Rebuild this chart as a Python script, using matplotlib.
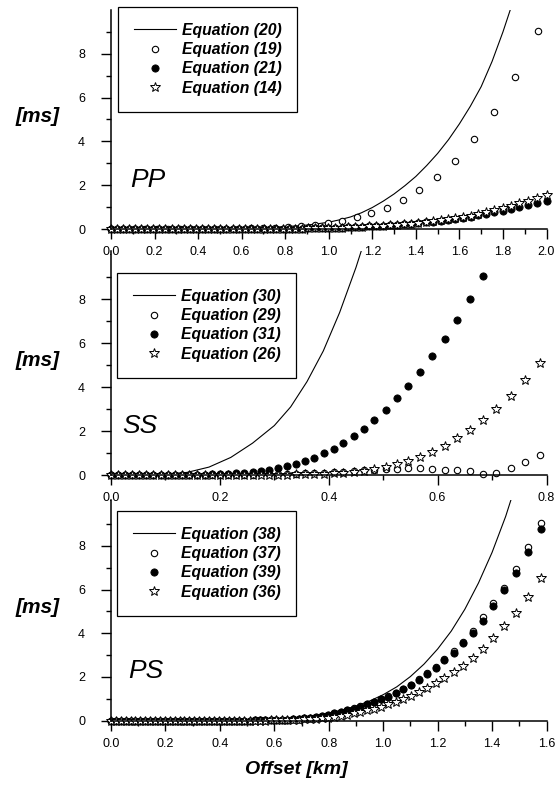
import matplotlib
matplotlib.use('Agg')
import matplotlib.pyplot as plt
from matplotlib.ticker import FixedLocator, MultipleLocator, FormatStrFormatter
from matplotlib.font_manager import FontProperties

plt.rcParams['font.family'] = ['Liberation Sans', 'DejaVu Sans']

# ---------------- PP panel ----------------
pp_line_x = [0.0, 0.2, 0.4, 0.5, 0.6, 0.65, 0.70, 0.75, 0.80, 0.85, 0.90, 0.95, 1.00, 1.05, 1.10,
             1.15, 1.20, 1.25, 1.30, 1.35, 1.40, 1.45, 1.50, 1.55, 1.60, 1.65, 1.70, 1.75, 1.80, 1.85]
pp_line_y = [0.0, 0.0, 0.005, 0.01, 0.03, 0.045, 0.06, 0.085, 0.11, 0.14, 0.18, 0.24, 0.31, 0.42, 0.55,
             0.74, 0.98, 1.27, 1.60, 1.98, 2.40, 2.90, 3.45, 4.08, 4.80, 5.60, 6.50, 7.65, 9.00, 10.5]

pp_open_x = [0.000, 0.053, 0.106, 0.158, 0.211, 0.263, 0.316, 0.369, 0.422, 0.476, 0.530, 0.585, 0.641,
             0.697, 0.754, 0.812, 0.874, 0.935, 0.998, 1.062, 1.128, 1.196, 1.266, 1.339, 1.416, 1.496,
             1.580, 1.666, 1.757, 1.855, 1.959]
pp_open_y = [0, 0, 0, 0, 0, 0, 0, 0, 0.005, 0.01, 0.01, 0.02, 0.03, 0.04, 0.06, 0.09, 0.14, 0.19, 0.28,
             0.38, 0.53, 0.73, 0.98, 1.33, 1.79, 2.38, 3.12, 4.10, 5.33, 6.96, 9.05]

pp_dense_x = [0.000, 0.028, 0.056, 0.083, 0.111, 0.139, 0.167, 0.194, 0.222, 0.250,
              0.278, 0.306, 0.334, 0.362, 0.390, 0.418, 0.446, 0.474, 0.502, 0.530,
              0.558, 0.586, 0.614, 0.643, 0.672, 0.701, 0.730, 0.759, 0.788, 0.817,
              0.847, 0.877, 0.907, 0.937, 0.967, 0.997, 1.028, 1.059, 1.090, 1.121,
              1.152, 1.184, 1.216, 1.248, 1.280, 1.313, 1.346, 1.379, 1.412, 1.446,
              1.480, 1.514, 1.548, 1.582, 1.616, 1.651, 1.686, 1.722, 1.760, 1.799,
              1.837, 1.875, 1.917, 1.958, 2.001]
pp_filled_y = [0, 0, 0, 0, 0, 0, 0, 0, 0, 0,
               0, 0, 0, 0, 0, 0.001, 0.001, 0.001, 0.002, 0.002,
               0.003, 0.003, 0.004, 0.004, 0.005, 0.005, 0.007, 0.009, 0.011, 0.014,
               0.017, 0.021, 0.026, 0.031, 0.037, 0.044, 0.052, 0.062, 0.072, 0.085,
               0.10, 0.115, 0.13, 0.15, 0.17, 0.19, 0.21, 0.24, 0.27, 0.31,
               0.34, 0.38, 0.42, 0.47, 0.52, 0.57, 0.63, 0.69, 0.76, 0.84,
               0.92, 1.01, 1.10, 1.20, 1.30]
pp_star_y = [0, 0, 0, 0, 0, 0, 0, 0, 0, 0,
             0, 0, 0, 0, 0, 0.001, 0.001, 0.001, 0.002, 0.002,
             0.003, 0.003, 0.004, 0.004, 0.005, 0.005, 0.007, 0.009, 0.011, 0.014,
             0.017, 0.021, 0.026, 0.031, 0.037, 0.044, 0.052, 0.062, 0.072, 0.085,
             0.10, 0.115, 0.13, 0.15, 0.17, 0.19, 0.22, 0.25, 0.28, 0.31,
             0.35, 0.39, 0.44, 0.49, 0.55, 0.61, 0.68, 0.76, 0.85, 0.95,
             1.06, 1.17, 1.30, 1.42, 1.55]
pp_labels = ['Equation (20)', 'Equation (19)', 'Equation (21)', 'Equation (14)']

# ---------------- SS panel ----------------
ss_line_x = [0.00, 0.06, 0.10, 0.14, 0.18, 0.22, 0.26, 0.30, 0.33, 0.36, 0.39, 0.42, 0.45, 0.47]
ss_line_y = [0.0, 0.0, 0.03, 0.12, 0.36, 0.80, 1.45, 2.25, 3.1, 4.25, 5.65, 7.4, 9.45, 11.0]

ss_x = [0.000, 0.013, 0.026, 0.039, 0.052, 0.065, 0.078, 0.091, 0.104, 0.117,
        0.130, 0.144, 0.158, 0.172, 0.186, 0.200, 0.2145, 0.229, 0.244, 0.260,
        0.275, 0.291, 0.307, 0.323, 0.339, 0.356, 0.373, 0.391, 0.409, 0.427,
        0.446, 0.465, 0.484, 0.505, 0.525, 0.546, 0.567, 0.590, 0.613, 0.635,
        0.659, 0.684, 0.708, 0.734, 0.760, 0.788]
ss_open_y = [0, 0, 0, 0, 0, 0, 0, 0, 0, 0, 0,
             0.001, 0.002, 0.003, 0.004, 0.006, 0.008, 0.01, 0.015, 0.02, 0.025,
             0.03, 0.04, 0.05, 0.06, 0.08, 0.09, 0.11, 0.13, 0.15, 0.18,
             0.21, 0.23, 0.27, 0.29, 0.30, 0.30, 0.29, 0.23, 0.21, 0.18,
             0.06, 0.09, 0.30, 0.58, 0.91]
ss_filled_y = [0, 0, 0, 0, 0, 0,
               0.001, 0.002, 0.003, 0.005, 0.007, 0.01, 0.015, 0.02, 0.03, 0.04, 0.05, 0.07,
               0.09, 0.12, 0.17, 0.23, 0.30, 0.40, 0.50, 0.64, 0.79, 0.99, 1.20, 1.46,
               1.78, 2.11, 2.52, 2.96, 3.49, 4.07, 4.71, 5.41, 6.2, 7.05, 8.0, 9.04]
ss_star_y = [0, 0, 0, 0, 0, 0, 0, 0, 0, 0, 0, 0, 0, 0, 0, 0,
             0.001, 0.002, 0.003, 0.004, 0.006, 0.009, 0.013, 0.018, 0.025, 0.035,
             0.045, 0.06, 0.08, 0.11, 0.15, 0.20, 0.27,
             0.36, 0.49, 0.64, 0.82, 1.06, 1.34, 1.67, 2.04, 2.49, 3.01, 3.62, 4.32, 5.09]
ss_labels = ['Equation (30)', 'Equation (29)', 'Equation (31)', 'Equation (26)']

# ---------------- PS panel ----------------
ps_line_x = [0.0, 0.1, 0.2, 0.3, 0.4, 0.5, 0.6, 0.7, 0.8, 0.85, 0.9, 0.95, 1.0, 1.05, 1.1,
             1.15, 1.2, 1.25, 1.3, 1.35, 1.4, 1.45, 1.5]
ps_line_y = [0.0, 0.0, 0.0, 0.002, 0.007, 0.026, 0.065, 0.15, 0.35, 0.49, 0.67, 0.90, 1.19, 1.55, 2.02,
             2.59, 3.28, 4.1, 5.1, 6.3, 7.7, 9.35, 11.3]

ps_x = [0.000, 0.018, 0.036, 0.054, 0.072, 0.090, 0.108, 0.126, 0.144, 0.162,
        0.180, 0.198, 0.216, 0.234, 0.252, 0.270, 0.288, 0.306, 0.324, 0.342,
        0.360, 0.378, 0.396, 0.414, 0.433, 0.452, 0.471, 0.490, 0.509, 0.528,
        0.547, 0.567, 0.587, 0.607, 0.627, 0.647, 0.668, 0.689, 0.710, 0.731,
        0.753, 0.775, 0.798, 0.821, 0.844, 0.867, 0.892, 0.916, 0.941, 0.966,
        0.992, 1.019, 1.046, 1.074, 1.102, 1.132, 1.161, 1.193, 1.225, 1.259,
        1.292, 1.329, 1.365, 1.404, 1.445, 1.489, 1.533, 1.580]
ps_open_y = [0, 0, 0, 0, 0, 0, 0, 0, 0, 0,
             0, 0, 0, 0, 0, 0, 0, 0, 0, 0,
             0, 0.001, 0.001, 0.002, 0.003, 0.004, 0.005, 0.006, 0.008, 0.01,
             0.013, 0.018, 0.023, 0.03, 0.04, 0.05, 0.065, 0.085, 0.11, 0.14,
             0.18, 0.23, 0.28, 0.34, 0.40, 0.48, 0.56, 0.65, 0.76, 0.87,
             0.99, 1.11, 1.27, 1.47, 1.65, 1.89, 2.17, 2.47, 2.82, 3.17,
             3.62, 4.12, 4.74, 5.38, 6.08, 6.95, 7.93, 9.07]
ps_filled_y = [0, 0, 0, 0, 0, 0, 0, 0, 0, 0,
               0, 0, 0, 0, 0, 0, 0, 0, 0, 0,
               0, 0.001, 0.001, 0.002, 0.003, 0.004, 0.005, 0.006, 0.008, 0.01,
               0.013, 0.018, 0.023, 0.03, 0.04, 0.05, 0.065, 0.085, 0.11, 0.14,
               0.18, 0.23, 0.28, 0.34, 0.40, 0.47, 0.55, 0.64, 0.75, 0.86,
               0.98, 1.10, 1.25, 1.45, 1.63, 1.86, 2.14, 2.43, 2.78, 3.11,
               3.55, 4.00, 4.58, 5.23, 5.96, 6.75, 7.70, 8.77]
ps_star_y = [0, 0, 0, 0, 0, 0, 0, 0, 0, 0,
             0, 0, 0, 0, 0, 0, 0, 0, 0, 0,
             0, 0.0, 0.001, 0.001, 0.002, 0.002, 0.003, 0.004, 0.005, 0.006,
             0.007, 0.009, 0.012, 0.016, 0.021, 0.028, 0.036, 0.046, 0.058, 0.072,
             0.09, 0.11, 0.14, 0.18, 0.23, 0.28, 0.34, 0.40, 0.47, 0.55,
             0.64, 0.75, 0.87, 0.99, 1.15, 1.30, 1.48, 1.71, 1.94, 2.22,
             2.52, 2.89, 3.28, 3.77, 4.34, 4.95, 5.68, 6.52]
ps_labels = ['Equation (38)', 'Equation (37)', 'Equation (39)', 'Equation (36)']

y_major = [0, 2, 4, 6, 8]
y_minor = [1, 3, 5, 7, 9]

# ---------------- figure ----------------
fig = plt.figure(figsize=(5.6, 7.85), dpi=100)
W, H = 560.0, 785.0
left = 111 / W
width = (546.5 - 111) / W

legend_font = FontProperties(family='Liberation Sans', weight='bold', style='italic', size=11.3)

panels = [
    dict(y0=229.0, ytop=10.0, ylim=10.0, xmax=2.0, name='PP', tx=0.044, ty=0.192,
         line=(pp_line_x, pp_line_y), opn=(pp_open_x, pp_open_y),
         fil=(pp_dense_x, pp_filled_y), star=(pp_dense_x, pp_star_y),
         labels=pp_labels, leg=(118, 7)),
    dict(y0=475.0, ytop=251.0, ylim=10.2, xmax=0.8, name='SS', tx=0.025, ty=0.1875,
         line=(ss_line_x, ss_line_y), opn=(ss_x, ss_open_y),
         fil=(ss_x[:len(ss_filled_y)], ss_filled_y), star=(ss_x, ss_star_y),
         labels=ss_labels, leg=(117, 273)),
    dict(y0=720.7, ytop=500.0, ylim=10.1, xmax=1.6, name='PS', tx=0.039, ty=0.193,
         line=(ps_line_x, ps_line_y), opn=(ps_x, ps_open_y),
         fil=(ps_x, ps_filled_y), star=(ps_x, ps_star_y),
         labels=ps_labels, leg=(117, 511)),
]

for p in panels:
    bottom = 1 - p['y0'] / H
    height = (p['y0'] - p['ytop']) / H
    ax = fig.add_axes([left, bottom, width, height])
    ax.patch.set_alpha(0)
    ax.set_xlim(0, p['xmax'])
    ax.set_ylim(0, p['ylim'])
    for s in ['top', 'right']:
        ax.spines[s].set_visible(False)
    for s in ['left', 'bottom']:
        ax.spines[s].set_linewidth(1.1)
    ax.xaxis.set_major_locator(MultipleLocator(0.2))
    ax.xaxis.set_minor_locator(MultipleLocator(0.1))
    ax.xaxis.set_major_formatter(FormatStrFormatter('%.1f'))
    ax.yaxis.set_major_locator(FixedLocator(y_major))
    ax.yaxis.set_minor_locator(FixedLocator(y_minor))
    ax.tick_params(which='major', direction='out', length=7.2, width=1.0, labelsize=9)
    ax.tick_params(which='minor', direction='out', length=3.6, width=1.0)
    ax.tick_params(axis='y', which='major', pad=11.5)
    ax.tick_params(axis='x', which='major', pad=5)

    h1, = ax.plot(*p['line'], color='black', lw=0.8, label=p['labels'][0])
    h2, = ax.plot(*p['opn'], ls='none', marker='o', ms=4.6, mfc='white', mec='black', mew=0.8,
                  clip_on=False, label=p['labels'][1])
    h3, = ax.plot(*p['fil'], ls='none', marker='o', ms=5.2, mfc='black', mec='black', mew=0.6,
                  clip_on=False, label=p['labels'][2])
    h4, = ax.plot(*p['star'], ls='none', marker='*', ms=7, mfc='white', mec='black', mew=0.7,
                  clip_on=False, label=p['labels'][3])

    ax.text(p['tx'], p['ty'], p['name'], transform=ax.transAxes, fontsize=19,
            style='italic', ha='left', va='baseline')

    lx, ly = p['leg']
    leg = ax.legend(handles=[h1, h2, h3, h4], loc='upper left',
                    bbox_to_anchor=(lx / W, 1 - ly / H), bbox_transform=fig.transFigure,
                    frameon=True, fancybox=False, edgecolor='black', framealpha=1,
                    prop=legend_font, handlelength=2.7, handletextpad=0.35,
                    labelspacing=0.28, borderpad=1.0, borderaxespad=0)
    leg.get_frame().set_linewidth(0.9)

    fig.text(38 / W, 1 - ((p['y0'] + p['ytop']) / 2 - 3) / H, '[ms]', fontsize=15,
             fontweight='bold', style='italic', ha='center', va='center')

fig.text(296 / W, 1 - 770 / H, 'Offset [km]', fontsize=14, fontweight='bold',
         style='italic', ha='center', va='center')

fig.savefig('out.png', dpi=100)
